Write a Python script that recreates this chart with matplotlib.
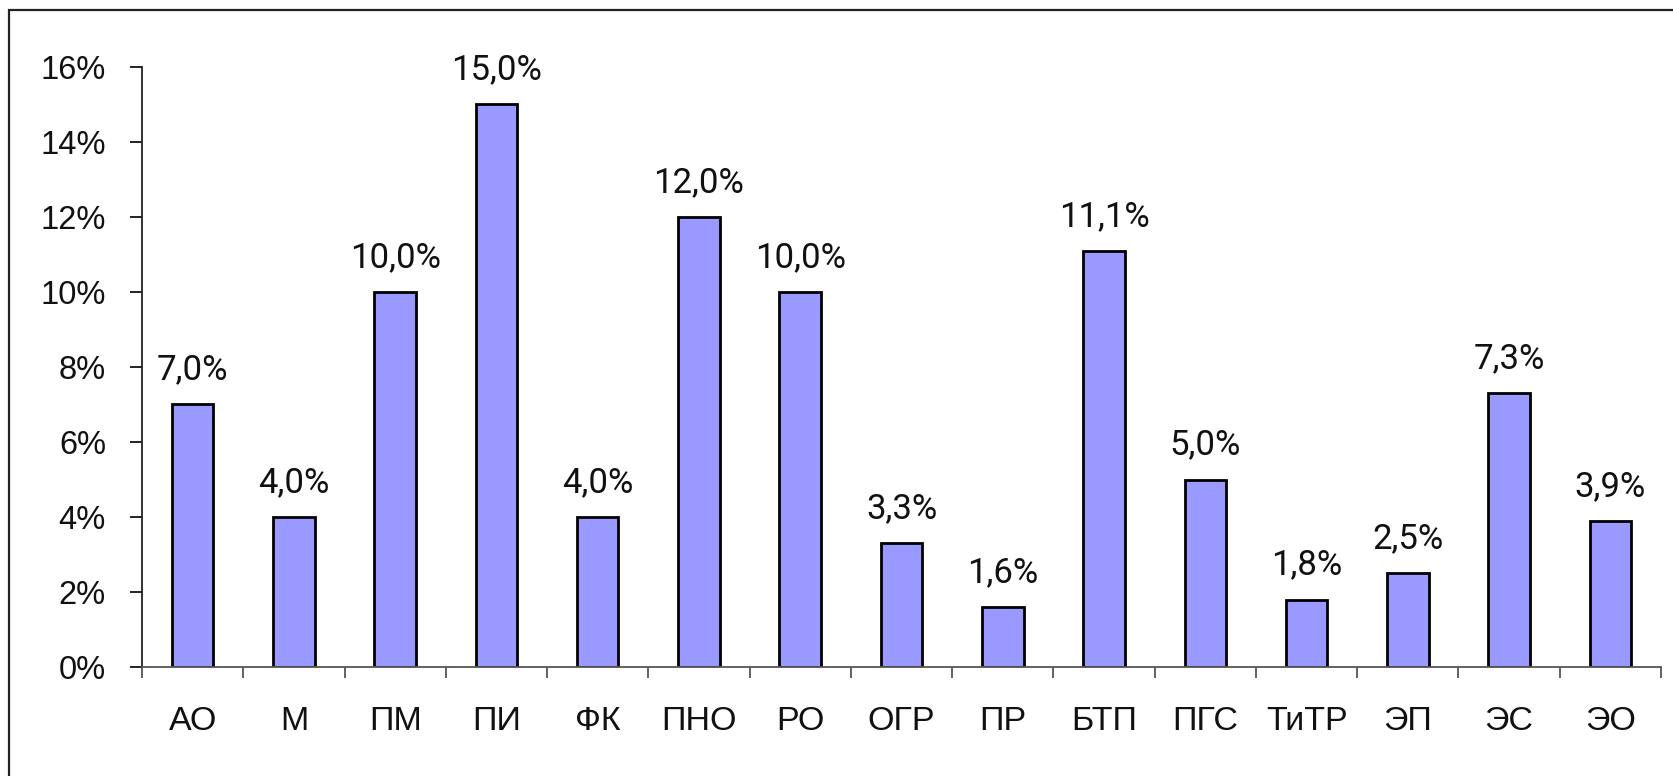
import matplotlib.pyplot as plt
from matplotlib.patches import Rectangle
from matplotlib.ticker import FixedLocator

# Data
categories = ["АО", "М", "ПМ", "ПИ", "ФК", "ПНО", "РО", "ОГР", "ПР", "БТП", "ПГС", "ТиТР", "ЭП", "ЭС", "ЭО"]
values = [7.0, 4.0, 10.0, 15.0, 4.0, 12.0, 10.0, 3.3, 1.6, 11.1, 5.0, 1.8, 2.5, 7.3, 3.9]
y_ticks = [0, 2, 4, 6, 8, 10, 12, 14, 16]

W, H = 1673, 776
fig = plt.figure(figsize=(W / 100, H / 100), dpi=100)
fig.patch.set_facecolor("white")

# outer frame (only left and top visible in the original)
fig.patches.append(Rectangle((9 / W, -0.1), 1.2, 1 - 10 / H + 0.1, transform=fig.transFigure,
                             fill=False, edgecolor="#222222", linewidth=1.6))

ax = fig.add_axes([142 / W, (H - 667) / H, (1661 - 142) / W, 600 / H])
x = list(range(len(categories)))
bars = ax.bar(x, values, width=0.41, color="#9999FF", edgecolor="black", linewidth=2)

ax.set_xlim(-0.5, len(categories) - 0.5)
ax.set_ylim(0, 16)
ax.set_yticks(y_ticks)
ax.set_yticklabels([f"{t}%" for t in y_ticks])
ax.set_xticks(x)
ax.set_xticklabels(categories)
ax.xaxis.set_minor_locator(FixedLocator([i + 0.5 for i in range(-1, len(categories))]))

for s in ["top", "right"]:
    ax.spines[s].set_visible(False)
ax.spines["left"].set_color("#222222")
ax.spines["bottom"].set_color("#555555")
ax.spines["left"].set_linewidth(1.3)
ax.spines["bottom"].set_linewidth(1.3)

font = "Liberation Sans"
ax.tick_params(axis="y", length=9, width=1.3, pad=17, labelsize=23.5, colors="#111111")
ax.tick_params(axis="x", which="major", length=0, pad=28, labelsize=24.5, colors="#111111")
ax.tick_params(axis="x", which="minor", length=8, width=1.3, color="#555555")
for lbl in ax.get_xticklabels() + ax.get_yticklabels():
    lbl.set_fontfamily(font)

labels = [f"{v:.1f}%".replace(".", ",") for v in values]
for xi, v, lab in zip(x, values, labels):
    ax.annotate(lab, (xi, v), xytext=(0, 13), textcoords="offset points",
                ha="center", va="bottom", fontsize=25, family="Roboto", color="#111111")

fig.savefig("out.png", dpi=100, facecolor="white")
